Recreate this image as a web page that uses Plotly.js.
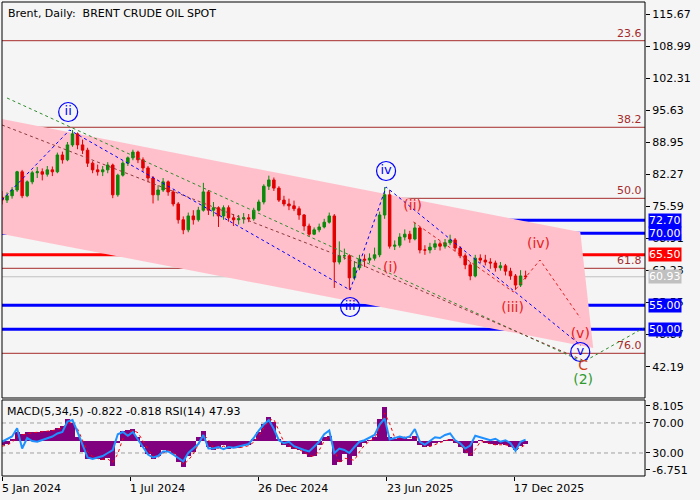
<!DOCTYPE html>
<html><head><meta charset="utf-8">
<script src="https://cdn.plot.ly/plotly-3.0.1.min.js"></script>
<style>html,body{margin:0;padding:0;background:#f5f5f5}</style>
</head><body><div id="chart" style="width:700px;height:500px"></div>
<script>
// ---------- DATA ----------
const dates = ["2024-01-05","2024-01-12","2024-01-19","2024-01-26","2024-02-02","2024-02-09","2024-02-16","2024-02-23","2024-03-01","2024-03-08","2024-03-15","2024-03-22","2024-03-29","2024-04-05","2024-04-12","2024-04-19","2024-04-26","2024-05-03","2024-05-10","2024-05-17","2024-05-24","2024-05-31","2024-06-07","2024-06-14","2024-06-21","2024-06-28","2024-07-05","2024-07-12","2024-07-19","2024-07-26","2024-08-02","2024-08-09","2024-08-16","2024-08-23","2024-08-30","2024-09-06","2024-09-13","2024-09-20","2024-09-27","2024-10-04","2024-10-11","2024-10-18","2024-10-25","2024-11-01","2024-11-08","2024-11-15","2024-11-22","2024-11-29","2024-12-06","2024-12-13","2024-12-20","2024-12-27",
"2025-01-03","2025-01-10","2025-01-17","2025-01-24","2025-01-31","2025-02-07","2025-02-14","2025-02-21","2025-02-28","2025-03-07","2025-03-14","2025-03-21","2025-03-28","2025-04-04","2025-04-11","2025-04-18","2025-04-25","2025-05-02","2025-05-09","2025-05-16","2025-05-23","2025-05-30","2025-06-06","2025-06-13","2025-06-20","2025-06-27","2025-07-04","2025-07-11","2025-07-18","2025-07-25","2025-08-01","2025-08-08","2025-08-15","2025-08-22","2025-08-29","2025-09-05","2025-09-12","2025-09-19","2025-09-26","2025-10-03","2025-10-10","2025-10-17","2025-10-24","2025-10-31","2025-11-07","2025-11-14","2025-11-21","2025-11-28","2025-12-05","2025-12-12","2025-12-19","2025-12-26","2026-01-02"];

const openP = [77.5,76.9,77.8,79.0,82.8,77.8,80.7,82.6,82.8,82.3,83.2,82.8,86.3,85.3,88.4,90.7,88.4,87.3,84.6,83.2,82.8,83.2,84.2,78.0,82.1,84.6,85.7,86.9,85.3,83.6,81.5,78.0,79.0,80.7,78.6,76.1,72.8,70.7,73.6,72.8,74.8,78.6,74.8,75.3,73.6,75.3,73.2,72.8,73.0,73.2,73.0,74.8,
76.5,79.8,81.1,79.4,76.9,76.1,75.7,75.1,73.8,71.5,69.8,70.7,71.3,72.3,73.6,64.0,65.3,65.3,60.7,62.8,64.6,64.4,64.8,65.5,73.8,78.0,67.3,67.5,69.2,69.8,68.8,71.1,66.5,66.5,67.1,67.8,67.3,68.0,68.6,66.9,65.3,63.4,61.1,64.8,64.4,64.0,63.8,62.8,63.2,62.1,61.1,59.2,61.1];
const highP = [78.8,78.5,79.6,83.0,83.2,81.0,83.0,83.8,83.5,84.0,83.9,86.8,87.0,89.0,91.5,91.0,89.5,87.8,85.0,84.3,84.0,84.8,84.5,82.4,85.0,86.0,87.4,87.2,85.8,84.0,81.9,80.0,81.5,81.0,79.0,76.5,73.5,74.3,74.8,75.5,80.5,79.0,76.5,75.6,75.8,75.8,74.0,73.8,74.2,74.0,75.3,77.0,
80.2,82.0,81.6,79.8,77.8,77.2,76.8,75.6,74.0,72.0,71.2,72.0,73.0,74.3,74.0,68.3,66.8,65.6,64.2,65.5,65.6,65.8,67.0,74.5,79.6,79.0,68.5,70.0,70.8,70.5,72.3,71.3,67.5,68.0,68.6,68.3,68.8,69.7,69.0,67.3,65.8,64.0,65.5,65.6,65.5,64.8,64.3,64.0,63.6,62.8,61.5,62.3,62.2];
const lowP = [76.0,76.3,77.2,78.6,77.3,77.5,80.2,81.5,81.0,81.8,81.9,82.5,84.5,85.0,88.0,87.5,86.5,83.8,82.5,82.0,81.9,82.5,77.3,77.6,81.8,84.0,85.2,84.6,82.9,80.6,76.2,76.8,78.6,77.8,75.6,72.0,69.8,70.2,71.8,72.4,74.5,73.8,73.5,71.3,72.8,72.4,71.5,71.8,72.0,72.3,72.6,74.5,
76.0,79.0,78.8,76.5,75.6,74.8,74.6,72.8,70.5,69.3,69.6,70.2,71.0,72.0,58.6,63.5,64.5,58.2,60.2,62.3,63.0,63.8,64.3,65.0,73.0,66.8,66.5,67.0,68.5,68.0,68.5,65.8,65.5,65.8,66.5,66.4,66.8,67.5,66.2,64.8,62.5,60.2,60.8,63.8,63.3,62.6,62.0,62.2,61.2,60.3,58.2,58.8,60.4];
const closeP = [76.9,77.8,79.0,82.8,77.8,80.7,82.6,82.8,82.3,83.2,82.8,86.3,85.3,88.4,90.7,88.4,87.3,84.6,83.2,82.8,83.2,84.2,78.0,82.1,84.6,85.7,86.9,85.3,83.6,81.5,78.0,79.0,80.7,78.6,76.1,72.8,70.7,73.6,72.8,74.8,78.6,74.8,75.3,73.6,75.3,73.2,72.8,73.0,73.2,73.0,74.8,76.5,
79.8,81.1,79.4,76.9,76.1,75.7,75.1,73.8,71.5,69.8,70.7,71.3,72.3,73.6,64.0,65.3,65.3,60.7,62.8,64.6,64.4,64.8,65.5,73.8,78.0,67.3,67.5,69.2,69.8,68.8,71.1,66.5,66.5,67.1,67.8,67.3,68.0,68.6,66.9,65.3,63.4,61.1,64.8,64.4,64.0,63.8,62.8,63.2,62.1,61.1,59.2,61.1,60.93];

const macdHist = [-1.0,-0.8,0.5,2.0,1.5,2.0,2.0,2.0,2.2,2.3,2.6,3.0,3.5,5.0,4.2,1.0,-2.5,-4.2,-4.0,-4.3,-4.5,-4.0,-5.8,-0.5,2.3,2.5,2.8,1.0,-1.5,-3.0,-4.3,-3.5,-2.0,-2.3,-3.0,-5.0,-6.0,-3.5,-2.5,1.0,2.2,-1.5,-2.0,-1.5,-1.0,-1.8,-1.5,-1.7,-1.2,-1.0,0.5,2.0,
4.0,5.5,4.5,0.5,-1.0,-1.5,-1.8,-2.2,-3.0,-3.8,-3.5,-1.0,1.0,1.2,-5.5,-5.0,-3.0,-5.5,-3.5,-1.5,-0.5,0.3,1.0,5.0,7.8,1.0,0.5,0.8,1.0,0.5,1.2,-1.0,-1.5,-1.2,-0.5,-0.3,0.3,0.5,-0.5,-1.5,-2.8,-3.5,-0.5,0.2,-0.6,-0.8,-1.0,-0.8,-1.0,-1.5,-2.2,-1.2,-0.822];
const macdSignal = [-1.2,-1.0,-0.3,0.8,1.4,1.7,1.9,2.0,2.1,2.2,2.4,2.7,3.1,4.0,4.3,2.8,0.0,-2.5,-3.6,-4.1,-4.3,-4.2,-5.0,-3.0,0.5,1.8,2.5,1.9,0.0,-2.0,-3.5,-3.8,-2.8,-2.2,-2.6,-4.0,-5.5,-4.5,-3.0,-0.8,1.5,0.3,-1.6,-1.7,-1.2,-1.5,-1.6,-1.6,-1.4,-1.1,-0.3,1.2,
3.0,4.8,5.0,2.5,-0.3,-1.2,-1.6,-2.0,-2.6,-3.4,-3.6,-2.2,0.0,1.1,-2.0,-5.2,-4.0,-4.3,-4.5,-2.5,-1.0,-0.1,0.6,3.0,6.5,4.0,0.8,0.6,0.9,0.8,0.8,0.1,-1.2,-1.3,-0.8,-0.4,0.0,0.4,0.0,-1.0,-2.2,-3.2,-2.0,-0.2,-0.2,-0.7,-0.9,-0.9,-0.9,-1.2,-1.9,-1.6,-0.818];
const rsi = [45,48,52,63,36,50,46,45,47,50,52,56,58,72,74,58,40,24,22,24,26,30,34,55,58,53,58,48,38,28,24,26,32,32,28,24,19,30,36,42,54,36,36,38,35,38,37,39,40,42,50,60,
68,74,62,47,43,45,39,36,34,32,38,45,55,60,30,36,34,30,38,45,47,50,54,68,76,48,50,52,50,52,62,45,41,46,51,50,54,56,47,43,36,40,53,51,49,47,49,45,47,43,33,45,47.93];

// levels
const fibLevels = [110.11, 92.07, 77.27, 62.69, 44.98];
const fibNames = ["23.6", "38.2", "50.0", "61.8", "76.0"];
const blueLevels = [72.70, 70.00, 55.00, 50.00];
const redLevels = [65.50];
const lastPrice = [60.93];

// channel
const channelX = ["2024-01-05","2026-03-19","2026-04-06","2024-01-05"];
const channelY = [93.8, 70.25, 46.09, 69.84];

// wave lines
const blueWaveX = ["2024-01-05","2024-04-08","2025-05-03","2025-06-22","2026-03-20"];
const blueWaveY = [76.92, 91.5, 58.17, 79.63, 46.6];
const redWaveX = ["2025-07-30","2025-12-16","2026-01-22","2026-03-19"];
const redWaveY = [72.34, 57.75, 64.42, 52.34];
const brownLineX = ["2024-01-05","2025-05-03","2026-03-22"];
const brownLineY = [92.55, 64.42, 43.59];
const greenLineX = ["2024-01-12","2026-03-23","2026-06-15"];
const greenLineY = [98.17, 43.17, 50.25];

// wave labels
const circText = ["ii","iii","iv","v"];
const circX = ["2024-04-06","2025-05-03","2025-06-22","2026-03-19"];
const circY = [95.25, 54.63, 82.96, 45.25];
const redText = ["(i)","(ii)","(iii)","(iv)","(v)"];
const redX = ["2025-06-28","2025-07-29","2025-12-15","2026-01-20","2026-03-19"];
const redY = [62.75, 75.67, 54.42, 67.75, 48.8];
const cText = ["C"], cX = ["2026-03-23"], cY = [42.13];
const twoText = ["(2)"], twoX = ["2026-03-23"], twoY = [39.42];

// axes
const xRange = ["2024-01-05","2026-06-17"];
const tickDates = ["2024-01-05","2024-07-01","2024-12-26","2025-06-23","2025-12-17"];
const tickLabels = ["5 Jan 2024","1 Jul 2024","26 Dec 2024","23 Jun 2025","17 Dec 2025"];
const priceTicks = [115.67,108.99,102.31,95.63,88.95,82.27,75.59,68.91,62.23,55.55,48.87,42.19];
const macdTicks = [8.105, -6.751];
const rsiTicks = [70, 30];

// ---------- CHART ----------
const FONT = "DejaVu Sans";
const traces = [];
traces.push({
  type: "candlestick", x: dates, open: openP, high: highP, low: lowP, close: closeP,
  xaxis: "x", yaxis: "y", showlegend: false, hoverinfo: "skip",
  increasing: {line: {color: "#0a8a0a", width: 1}, fillcolor: "#0a8a0a"},
  decreasing: {line: {color: "#e00000", width: 1}, fillcolor: "#e00000"},
  whiskerwidth: 0
});
function dashed(x, y, color) {
  return {type: "scatter", mode: "lines", x: x, y: y, xaxis: "x", yaxis: "y",
    line: {color: color, width: 1, dash: "3px,3px"}, showlegend: false, hoverinfo: "skip"};
}
traces.push(dashed(greenLineX, greenLineY, "#2e8b2e"));
traces.push(dashed(brownLineX, brownLineY, "#8b3a3a"));
traces.push(dashed(blueWaveX, blueWaveY, "#0000ff"));
traces.push(dashed(redWaveX, redWaveY, "#e02020"));
traces.push({type: "scatter", mode: "markers+text", x: circX, y: circY, text: circText,
  textposition: "middle center", textfont: {family: FONT, size: 13, color: "#0000ff"},
  marker: {symbol: "circle", size: 19, color: "rgba(0,0,0,0)", line: {color: "#0000ff", width: 1.2}},
  xaxis: "x", yaxis: "y", showlegend: false, hoverinfo: "skip", cliponaxis: false});
traces.push({type: "scatter", mode: "text", x: redX, y: redY, text: redText,
  textposition: "middle center", textfont: {family: FONT, size: 14, color: "#e82020"},
  xaxis: "x", yaxis: "y", showlegend: false, hoverinfo: "skip"});
traces.push({type: "scatter", mode: "text", x: cX, y: cY, text: cText,
  textposition: "middle center", textfont: {family: FONT, size: 14, color: "#d2401a"},
  xaxis: "x", yaxis: "y", showlegend: false, hoverinfo: "skip"});
traces.push({type: "scatter", mode: "text", x: twoX, y: twoY, text: twoText,
  textposition: "middle center", textfont: {family: FONT, size: 14, color: "#2e9a2e"},
  xaxis: "x", yaxis: "y", showlegend: false, hoverinfo: "skip"});
traces.push({type: "bar", x: dates, y: macdHist, xaxis: "x", yaxis: "y2",
  width: 7 * 86400000, marker: {color: "#800080", line: {width: 0}}, showlegend: false, hoverinfo: "skip"});
traces.push({type: "scatter", mode: "lines", x: dates, y: macdSignal, xaxis: "x", yaxis: "y2",
  line: {color: "#ff0000", width: 1, dash: "dot"}, showlegend: false, hoverinfo: "skip"});
traces.push({type: "scatter", mode: "lines", x: dates, y: rsi, xaxis: "x", yaxis: "y3",
  line: {color: "#1e90ff", width: 2}, showlegend: false, hoverinfo: "skip"});

const shapes = [];
const chPath = "M" + channelX.map((d, i) => d + "," + channelY[i]).join("L") + "Z";
shapes.push({type: "path", path: chPath, xref: "x", yref: "y", fillcolor: "#ffc0cb", line: {width: 0}, layer: "below"});
function hline(level, color, width) {
  return {type: "line", xref: "x domain", x0: 0, x1: 1, yref: "y", y0: level, y1: level,
    line: {color: color, width: width}, layer: "below"};
}
lastPrice.forEach(v => shapes.push(hline(v, "#c0c0c0", 1)));
fibLevels.forEach(v => shapes.push(hline(v, "#a52a2a", 1)));
blueLevels.forEach(v => shapes.push(hline(v, "#0000ff", 3)));
redLevels.forEach(v => shapes.push(hline(v, "#ff0000", 3)));
rsiTicks.forEach(v => shapes.push({type: "line", xref: "x domain", x0: 0, x1: 1, yref: "y3", y0: v, y1: v,
  line: {color: "#a0a0a0", width: 1, dash: "4px,3px"}, layer: "below"}));
shapes.push({type: "rect", xref: "x domain", yref: "y domain", x0: 0, x1: 1, y0: 0, y1: 1, line: {color: "#000", width: 1}, layer: "above"});
shapes.push({type: "rect", xref: "x domain", yref: "y2 domain", x0: 0, x1: 1, y0: 0, y1: 1, line: {color: "#000", width: 1}, layer: "above"});

const annotations = [];
annotations.push({xref: "paper", yref: "paper", x: 0, y: 1, xanchor: "left", yanchor: "top", xshift: 4, yshift: -3,
  text: "Brent, Daily:  BRENT CRUDE OIL SPOT", showarrow: false, font: {family: FONT, size: 11, color: "#000"}});
annotations.push({xref: "paper", yref: "y2 domain", x: 0, y: 1, xanchor: "left", yanchor: "top", xshift: 3, yshift: -3,
  text: "MACD(5,34,5) -0.822 -0.818 RSI(14) 47.93", showarrow: false, font: {family: FONT, size: 11, color: "#000"}});
fibLevels.forEach((v, i) => annotations.push({xref: "x domain", yref: "y", x: 1, y: v, xanchor: "right", yanchor: "bottom",
  xshift: -2, yshift: 0, borderpad: 0, text: fibNames[i], showarrow: false, font: {family: FONT, size: 11, color: "#a52a2a"}}));
function box(v, bg) {
  return {xref: "x domain", yref: "y", x: 1, y: v, xanchor: "left", yanchor: "middle", xshift: 3,
    text: v.toFixed(2), showarrow: false, bgcolor: bg, borderpad: 0,
    font: {family: FONT, size: 11, color: "#ffffff"}};
}
blueLevels.forEach(v => annotations.push(box(v, "#0000ff")));
redLevels.forEach(v => annotations.push(box(v, "#ff0000")));
lastPrice.forEach(v => annotations.push(box(v, "#c0c0c0")));
tickDates.forEach((d, i) => annotations.push({xref: "x", yref: "paper", x: d, y: 0, xanchor: "left", yanchor: "top",
  yshift: -4, xshift: -2, text: tickLabels[i], showarrow: false, font: {family: FONT, size: 11, color: "#000"}}));

const axisFont = {family: FONT, size: 11, color: "#000"};
const layout = {
  width: 700, height: 500,
  margin: {l: 2, r: 55, t: 2, b: 24, pad: 0},
  paper_bgcolor: "#f5f5f5", plot_bgcolor: "#f5f5f5",
  showlegend: false, bargap: 0, dragmode: false,
  xaxis: {type: "date", range: xRange, anchor: "y2", domain: [0, 1], tickvals: tickDates, ticks: "outside",
    ticklen: 4, tickcolor: "#000", showticklabels: false, showgrid: false, zeroline: false,
    rangeslider: {visible: false}, showline: false},
  yaxis: {domain: [0.16456, 1], range: [35.67, 118.17], side: "right", anchor: "x", tickvals: priceTicks,
    ticktext: priceTicks.map(v => v.toFixed(2)), ticks: "outside", ticklen: 4, tickcolor: "#000",
    showgrid: false, zeroline: false, tickfont: axisFont, showline: false},
  yaxis2: {domain: [0, 0.16034], range: [-8.144, 9.498], side: "right", anchor: "x", tickvals: macdTicks,
    ticktext: macdTicks.map(v => String(v)), ticks: "outside", ticklen: 4, tickcolor: "#000",
    showgrid: false, zeroline: false, tickfont: axisFont},
  yaxis3: {overlaying: "y2", range: [-0.67, 100.67], side: "right", anchor: "x", tickvals: rsiTicks,
    ticktext: rsiTicks.map(v => v.toFixed(2)), ticks: "outside", ticklen: 4, tickcolor: "#000",
    showgrid: false, zeroline: false, tickfont: axisFont},
  shapes: shapes, annotations: annotations
};
Plotly.newPlot("chart", traces, layout, {staticPlot: true, displayModeBar: false});
</script></body></html>
